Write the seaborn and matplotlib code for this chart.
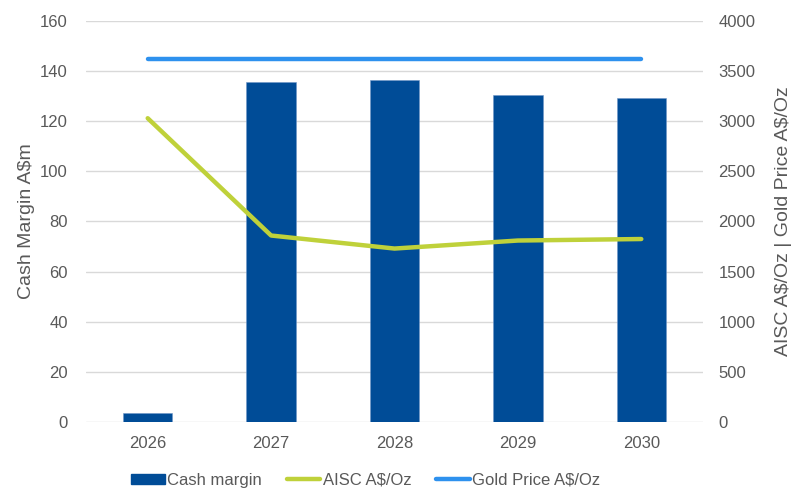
import numpy as np
import pandas as pd
import matplotlib
matplotlib.use("Agg")
import matplotlib.pyplot as plt
import seaborn as sns
from matplotlib.patches import Patch
from matplotlib.lines import Line2D

years = ["2026", "2027", "2028", "2029", "2030"]
cash_margin = [3.5, 135.5, 136.3, 130.6, 129.3]
aisc = [3030, 1860, 1730, 1810, 1825]
gold_price = [3620, 3620, 3620, 3620, 3620]
left_ticks = [0, 20, 40, 60, 80, 100, 120, 140, 160]
right_ticks = [0, 500, 1000, 1500, 2000, 2500, 3000, 3500, 4000]

BAR = "#004C97"
AISC_C = "#BFD13A"
GOLD_C = "#2E91EE"
TXT = "#595959"
GRID = "#D9D9D9"

sns.set_theme(style="white")
plt.rcParams["font.family"] = ["Liberation Sans", "DejaVu Sans"]

fig = plt.figure(figsize=(7.92, 4.90), dpi=100)
ax = fig.add_axes([0.1086, 0.1388, 0.7790, 0.8184])

df = pd.DataFrame({"year": years, "cash": cash_margin})
sns.barplot(data=df, x="year", y="cash", ax=ax, color=BAR, width=0.4,
            saturation=1, edgecolor="#6F95C8", linewidth=0.4, zorder=2)
ax.set_ylim(0, 160)
ax.set_xlim(-0.5, 4.5)
ax.set_yticks(left_ticks)
ax.yaxis.grid(True, color=GRID, linewidth=1.0, zorder=0)
ax.set_axisbelow(True)
for s in ax.spines.values():
    s.set_visible(False)
ax.tick_params(axis="both", length=0, labelsize=12, colors=TXT)
ax.tick_params(axis="y", pad=13)
ax.tick_params(axis="x", pad=10)
ax.set_xlabel("")
ax.set_ylabel("Cash Margin A$m", fontsize=14, color=TXT, labelpad=4)

ax2 = ax.twinx()
xpos = np.arange(len(years))
sns.lineplot(x=xpos, y=aisc, ax=ax2, color=AISC_C, linewidth=3.2, zorder=3)
sns.lineplot(x=xpos, y=gold_price, ax=ax2, color=GOLD_C, linewidth=3.2, zorder=3)
for l in ax2.lines:
    l.set_solid_capstyle("round")
    l.set_solid_joinstyle("round")
ax2.set_ylim(0, 4000)
ax2.set_yticks(right_ticks)
ax2.set_xlim(-0.5, 4.5)
for s in ax2.spines.values():
    s.set_visible(False)
ax2.tick_params(axis="y", length=0, labelsize=12, colors=TXT, pad=11)
ax2.set_ylabel("AISC A\\$/Oz | Gold Price A\\$/Oz", fontsize=14, color=TXT, labelpad=14)
ax2.grid(False)

handles = [
    Patch(facecolor=BAR, edgecolor=BAR),
    Line2D([0], [0], color=AISC_C, linewidth=3.2, solid_capstyle="round"),
    Line2D([0], [0], color=GOLD_C, linewidth=3.2, solid_capstyle="round"),
]
labels = ["Cash margin", "AISC A$/Oz", "Gold Price A$/Oz"]
leg = fig.legend(handles, labels, loc="lower center", bbox_to_anchor=(0.462, -0.026),
                 ncol=3, frameon=False, fontsize=12, handlelength=2.0,
                 handleheight=0.55, handletextpad=0.15, columnspacing=1.5)
for t in leg.get_texts():
    t.set_color(TXT)

fig.savefig("out.png", dpi=100)
